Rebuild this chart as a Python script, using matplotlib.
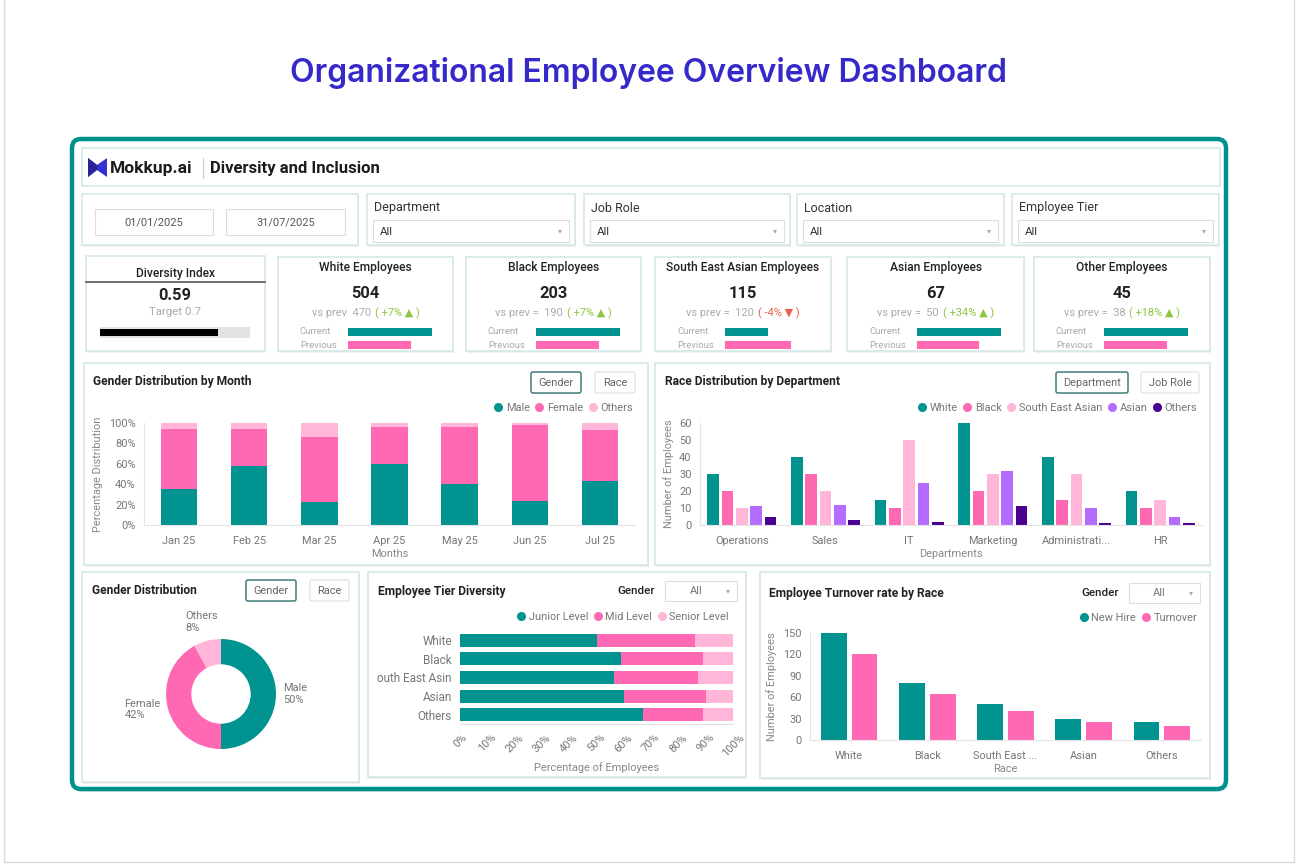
import matplotlib
matplotlib.use("Agg")
import matplotlib.pyplot as plt
from matplotlib.patches import Rectangle, FancyBboxPatch, Polygon
from matplotlib.lines import Line2D
import numpy as np

W, H = 1298, 868

# colours
TEAL = "#00938f"
PINK = "#ff69b4"
LPINK = "#ffb6d9"
PURPLE = "#b46cff"
DPURPLE = "#4b0090"
CARD_EC = "#cfe7e7"
GREY_TXT = "#777777"

# ---- data ----
date_from, date_to = "01/01/2025", "31/07/2025"
filters = ["Department", "Job Role", "Location", "Employee Tier"]

diversity_index = 0.59
diversity_target = 0.7

kpi_names = ["White Employees", "Black Employees", "South East Asian Employees",
             "Asian Employees", "Other Employees"]
kpi_values = [504, 203, 115, 67, 45]
kpi_prev = [470, 190, 120, 50, 38]
kpi_prefix = ["vs prev", "vs prev =", "vs prev =", "vs prev =", "vs prev ="]
kpi_bar_current = [1.0, 1.0, 0.51, 1.0, 1.0]
kpi_bar_previous = [0.75, 0.75, 0.79, 0.74, 0.75]

months = ["Jan 25", "Feb 25", "Mar 25", "Apr 25", "May 25", "Jun 25", "Jul 25"]
month_male = [35, 58, 23, 60, 40, 24, 43]
month_female = [59, 36, 63, 36, 56, 74, 50]
month_others = [6, 6, 14, 4, 4, 2, 7]

departments = ["Operations", "Sales", "IT", "Marketing", "Administrati...", "HR"]
races = ["White", "Black", "South East Asian", "Asian", "Others"]
dept_white = [30, 40, 15, 60, 40, 20]
dept_black = [20, 30, 10, 20, 15, 10]
dept_sea = [10, 20, 50, 30, 30, 15]
dept_asian = [11, 12, 25, 32, 10, 5]
dept_others = [5, 3, 2, 11, 1, 1]

gender_labels = ["Male", "Female", "Others"]
gender_share = [50, 42, 8]

tier_races = ["White", "Black", "South East Asin", "Asian", "Others"]
tier_junior = [50, 59, 56.5, 60, 67]
tier_mid = [36, 30, 30.5, 30, 22]
tier_senior = [14, 11, 13, 10, 11]

turn_races = ["White", "Black", "South East ...", "Asian", "Others"]
new_hire = [150, 80, 50, 30, 25]
turnover = [120, 65, 40, 25, 20]

plt.rcParams['font.family'] = ['Roboto', 'DejaVu Sans']

fig = plt.figure(figsize=(W / 100, H / 100), dpi=100)
bg = fig.add_axes([0, 0, 1, 1])
bg.set_xlim(0, W)
bg.set_ylim(H, 0)
bg.axis('off')


def rect(x0, y0, x1, y1):
    return [x0 / W, 1 - y1 / H, (x1 - x0) / W, (y1 - y0) / H]


def fs(px):
    return px * 0.72


def card(x0, y0, x1, y1, ec=CARD_EC, shadow=True):
    if shadow:
        bg.add_patch(Rectangle((x0 + 1, y0 + 2), x1 - x0, y1 - y0, fc="#f8ecf1", ec="none", zorder=1))
    p = Rectangle((x0, y0), x1 - x0, y1 - y0, fc="white", ec=ec, lw=1.1, zorder=2)
    bg.add_patch(p)
    return p


def button(x0, y0, x1, y1, label, selected=False):
    ec = "#3f7c79" if selected else "#dddddd"
    bg.add_patch(FancyBboxPatch((x0, y0), x1 - x0, y1 - y0, boxstyle="round,pad=0,rounding_size=2",
                                fc="white", ec=ec, lw=1.1 if selected else 0.8, zorder=3))
    bg.text((x0 + x1) / 2, (y0 + y1) / 2, label, ha="center", va="center",
            fontsize=fs(11), color="#666666", zorder=4)


def dropdown(x0, y0, x1, y1, label="All", centered=False):
    bg.add_patch(Rectangle((x0, y0), x1 - x0, y1 - y0, fc="white", ec="#dddddd", lw=0.8, zorder=3))
    if centered:
        bg.text((x0 + x1) / 2 - 5, (y0 + y1) / 2, label, ha="center", va="center",
                fontsize=fs(11), color="#777777", zorder=4)
    else:
        bg.text(x0 + 7, (y0 + y1) / 2 + 1, label, ha="left", va="center",
                fontsize=fs(11.5), color="#333333", zorder=4)
    bg.text(x1 - 9, (y0 + y1) / 2, "▾", ha="center", va="center", fontsize=fs(8),
            color="#aaaaaa", zorder=4)


def legend(ax, labels, colors, xr, y):
    handles = [Line2D([], [], marker="o", ls="none", color=c, markersize=5.5) for c in colors]
    ax.legend(handles, labels, loc="center right", bbox_to_anchor=(xr, y), bbox_transform=bg.transData,
              ncol=len(labels), frameon=False, borderpad=0, borderaxespad=0, handlelength=0.7,
              handletextpad=0.35, columnspacing=0.5, fontsize=fs(11), labelcolor=GREY_TXT)


def style_axis(ax):
    for s in ["top", "right"]:
        ax.spines[s].set_visible(False)
    for s in ["left", "bottom"]:
        ax.spines[s].set_color("#e3e3e3")
    ax.tick_params(length=0, labelsize=fs(11), colors=GREY_TXT)
    ax.set_facecolor("none")


# ---- page ----
bg.add_patch(Rectangle((4, -2), 1290, 864, fc="none", ec="#d9d9d9", lw=1.0))
bg.text(W / 2, 73, "Organizational Employee Overview Dashboard", ha="center", va="center",
        fontsize=23, color="#3529c9", family=["Inter", "DejaVu Sans"], weight="semibold")

bg.add_patch(FancyBboxPatch((74, 142), 1154, 650, boxstyle="round,pad=0,rounding_size=9",
                            fc="#dddddd", ec="none", alpha=0.6, zorder=0))
bg.add_patch(FancyBboxPatch((72, 139), 1154, 650, boxstyle="round,pad=0,rounding_size=9",
                            fc="white", ec="#00918c", lw=3.2, zorder=0.5))

# header
card(82, 148, 1220, 186, shadow=False)
bg.add_patch(Polygon([(88, 158), (97, 165), (107, 158), (107, 177), (97, 170), (88, 177)],
                     closed=True, fc="#3430d4", ec="none", zorder=3))
bg.add_patch(Polygon([(88, 158), (97, 165), (97, 170), (88, 177)], closed=True,
                     fc="#2a2596", ec="none", zorder=3))
bg.text(110, 168, "Mokkup.ai", ha="left", va="center", fontsize=12.5, weight="bold", color="#1b1b1b", zorder=4)
bg.plot([203, 203], [158, 178], color="#cccccc", lw=0.8, zorder=4)
bg.text(210, 168, "Diversity and Inclusion", ha="left", va="center", fontsize=12, weight="bold",
        color="#1b1b1b", zorder=4)

# filters
card(82, 194, 358, 245)
for (x0, x1), d in zip([(95, 213), (226, 345)], [date_from, date_to]):
    bg.add_patch(Rectangle((x0, 209), x1 - x0, 26, fc="white", ec="#dddddd", lw=0.8, zorder=3))
    bg.text((x0 + x1) / 2, 222, d, ha="center", va="center", fontsize=fs(11), color="#555555", zorder=4)
for (x0, x1), name in zip([(367, 575), (584, 790), (797, 1004), (1012, 1219)], filters):
    card(x0, 194, x1, 245)
    bg.text(x0 + 7, 208, name, ha="left", va="center", fontsize=fs(12.5), color="#333333", zorder=4)
    dropdown(x0 + 6, 220, x1 - 6, 242)

# ---- KPI row ----
card(86, 256, 265, 351)
bg.text(175, 273, "Diversity Index", ha="center", va="center", fontsize=fs(12), weight="medium",
        color="#222222", zorder=4)
bg.plot([86, 265], [282, 282], color="#555555", lw=1.2, zorder=4)
bg.text(175, 296, f"{diversity_index:.2f}", ha="center", va="center", fontsize=fs(16.5), weight="bold",
        color="#222222", zorder=4)
bg.text(175, 312, f"Target {diversity_target}", ha="center", va="center", fontsize=fs(11.5),
        color="#aaaaaa", zorder=4)
axd = fig.add_axes(rect(100, 327, 250, 338))
axd.barh([0], [0.75], height=1.0, color="#e3e3e3")
axd.barh([0], [diversity_index], height=0.6, color="black")
axd.set_xlim(0, 0.75)
axd.set_ylim(-0.5, 0.5)
axd.axis("off")

renderer = fig.canvas.get_renderer()
kpi_boxes = [(278, 453), (466, 641), (655, 831), (847, 1024), (1034, 1210)]
for i, (x0, x1) in enumerate(kpi_boxes):
    cx = (x0 + x1) / 2
    card(x0, 257, x1, 351)
    bg.text(cx, 267, kpi_names[i], ha="center", va="center", fontsize=fs(12), weight="medium",
            color="#222222", zorder=4)
    bg.text(cx, 293, str(kpi_values[i]), ha="center", va="center", fontsize=fs(16.5), weight="bold",
            color="#222222", zorder=4)
    pct = round((kpi_values[i] - kpi_prev[i]) / kpi_prev[i] * 100)
    up = pct >= 0
    s2 = f"( {pct:+d}% {'▲' if up else '▼'} )"
    t1 = bg.text(0, 313, f"{kpi_prefix[i]}  {kpi_prev[i]}", ha="left", va="center",
                 fontsize=fs(11), color="#aaaaaa", zorder=4)
    t2 = bg.text(0, 313, s2, ha="left", va="center", fontsize=fs(11),
                 color="#8dc63f" if up else "#e8604c", zorder=4)
    w1 = t1.get_window_extent(renderer).width
    w2 = t2.get_window_extent(renderer).width
    xs = cx - (w1 + 4 + w2) / 2
    t1.set_x(xs)
    t2.set_x(xs + w1 + 4)
    bg.text(x0 + 22, 332, "Current", ha="left", va="center", fontsize=fs(9.5), color="#aaaaaa", zorder=4)
    bg.text(x0 + 22, 345, "Previous", ha="left", va="center", fontsize=fs(9.5), color="#aaaaaa", zorder=4)
    axk = fig.add_axes(rect(x0 + 70, 325.5, x0 + 154, 351.5))
    axk.barh([0, 1], [kpi_bar_current[i], kpi_bar_previous[i]], height=0.62, color=[TEAL, PINK])
    axk.set_xlim(0, 1)
    axk.set_ylim(1.5, -0.5)
    axk.axis("off")

# ---- Gender Distribution by Month ----
card(84, 363, 648, 565)
bg.text(93, 382, "Gender Distribution by Month", ha="left", va="center", fontsize=fs(12), weight="bold",
        color="#222222", zorder=4)
button(531, 372, 581, 393, "Gender", True)
button(595, 372, 635, 393, "Race")
ax1 = fig.add_axes(rect(144, 423, 635, 525))
x = np.arange(len(months))
m = np.array(month_male)
f = np.array(month_female)
ax1.bar(x, m, 0.52, color=TEAL)
ax1.bar(x, f, 0.52, bottom=m, color=PINK)
ax1.bar(x, month_others, 0.52, bottom=m + f, color=LPINK)
ax1.set_xlim(-0.5, len(months) - 0.5)
ax1.set_ylim(0, 100)
ax1.set_yticks(range(0, 101, 20))
ax1.set_yticklabels([f"{v}%" for v in range(0, 101, 20)])
ax1.set_xticks(x)
ax1.set_xticklabels(months)
style_axis(ax1)
ax1.tick_params(axis="x", pad=8)
ax1.tick_params(axis="y", pad=6)
ax1.set_xlabel("Months", fontsize=fs(11), color="#888888", labelpad=2)
ax1.set_ylabel("Percentage Distribution", fontsize=fs(11), color="#888888", labelpad=4)
legend(ax1, gender_labels, [TEAL, PINK, LPINK], 633, 408)

# ---- Race Distribution by Department ----
card(655, 363, 1210, 565)
bg.text(665, 382, "Race Distribution by Department", ha="left", va="center", fontsize=fs(12),
        weight="bold", color="#222222", zorder=4)
button(1056, 372, 1128, 393, "Department", True)
button(1141, 372, 1199, 393, "Job Role")
ax2 = fig.add_axes(rect(700, 423, 1202, 525))
xd = np.arange(len(departments))
race_series = [dept_white, dept_black, dept_sea, dept_asian, dept_others]
race_colors = [TEAL, PINK, LPINK, PURPLE, DPURPLE]
for k, (vals, col) in enumerate(zip(race_series, race_colors)):
    ax2.bar(xd + (k - 2) * 0.171, vals, 0.14, color=col)
ax2.set_xlim(-0.5, len(departments) - 0.5)
ax2.set_ylim(0, 60)
ax2.set_yticks(range(0, 61, 10))
ax2.set_xticks(xd)
ax2.set_xticklabels(departments)
style_axis(ax2)
ax2.tick_params(axis="x", pad=8)
ax2.tick_params(axis="y", pad=6)
ax2.set_xlabel("Departments", fontsize=fs(11), color="#888888", labelpad=2)
ax2.set_ylabel("Number of Employees", fontsize=fs(11), color="#888888", labelpad=4)
legend(ax2, races, race_colors, 1197, 408)

# ---- Gender Distribution donut ----
card(82, 572, 359, 782)
bg.text(92, 591, "Gender Distribution", ha="left", va="center", fontsize=fs(12), weight="bold",
        color="#222222", zorder=4)
button(246, 580, 296, 601, "Gender", True)
button(310, 580, 349, 601, "Race")
ax5 = fig.add_axes(rect(116, 589, 326, 799))
wedges, texts = ax5.pie(gender_share, colors=[TEAL, PINK, LPINK], startangle=90, counterclock=False,
                        labels=[f"{l}\n{v}%" for l, v in zip(gender_labels, gender_share)],
                        labeldistance=1.13, wedgeprops=dict(width=0.46, linewidth=0),
                        textprops=dict(fontsize=fs(11), color=GREY_TXT, multialignment="left"))
texts[2].set_position((-0.64, 1.31))
texts[2].set_ha("left")
ax5.set_xlim(-105 / 55, 105 / 55)
ax5.set_ylim(-105 / 55, 105 / 55)
ax5.set_aspect("equal")
ax5.axis("off")

# ---- Employee Tier Diversity ----
card(368, 572, 746, 777)
bg.text(378, 591, "Employee Tier Diversity", ha="left", va="center", fontsize=fs(12), weight="bold",
        color="#222222", zorder=4)
bg.text(617, 591, "Gender", ha="left", va="center", fontsize=fs(11.5), weight="medium",
        color="#222222", zorder=4)
dropdown(665, 581, 737, 601, centered=True)
ax4 = fig.add_axes(rect(460, 631, 733, 724))
yt = np.arange(len(tier_races))
j = np.array(tier_junior)
mid = np.array(tier_mid)
ax4.barh(yt, j, 0.7, color=TEAL)
ax4.barh(yt, mid, 0.7, left=j, color=PINK)
ax4.barh(yt, tier_senior, 0.7, left=j + mid, color=LPINK)
ax4.set_xlim(0, 100)
ax4.set_ylim(len(tier_races) - 0.5, -0.5)
ax4.set_yticks(yt)
ax4.set_yticklabels(tier_races)
ax4.set_xticks(range(0, 101, 10))
ax4.set_xticklabels([f"{v}%" for v in range(0, 101, 10)], rotation=45)
style_axis(ax4)
ax4.spines["left"].set_visible(False)
ax4.tick_params(axis="y", pad=6, labelsize=fs(11.8))
ax4.tick_params(axis="x", pad=6)
clip = Rectangle((377, 572), 369, 205, transform=bg.transData, visible=False)
bg.add_patch(clip)
for lab in ax4.get_yticklabels():
    lab.set_clip_path(clip)
ax4.set_xlabel("Percentage of Employees", fontsize=fs(11), color="#888888", labelpad=3)
legend(ax4, ["Junior Level", "Mid Level", "Senior Level"], [TEAL, PINK, LPINK], 729, 617)

# ---- Employee Turnover rate by Race ----
card(760, 572, 1210, 778)
bg.text(769, 593, "Employee Turnover rate by Race", ha="left", va="center", fontsize=fs(12),
        weight="bold", color="#222222", zorder=4)
bg.text(1081, 593, "Gender", ha="left", va="center", fontsize=fs(11.5), weight="medium",
        color="#222222", zorder=4)
dropdown(1129, 583, 1200, 603, centered=True)
ax3 = fig.add_axes(rect(810, 633, 1201, 740))
xr = np.arange(len(turn_races))
ax3.bar(xr - 0.198, new_hire, 0.33, color=TEAL)
ax3.bar(xr + 0.198, turnover, 0.33, color=PINK)
ax3.set_xlim(-0.5, len(turn_races) - 0.5)
ax3.set_ylim(0, 150)
ax3.set_yticks(range(0, 151, 30))
ax3.set_xticks(xr)
ax3.set_xticklabels(turn_races)
style_axis(ax3)
ax3.tick_params(axis="x", pad=8)
ax3.tick_params(axis="y", pad=6)
ax3.set_xlabel("Race", fontsize=fs(11), color="#888888", labelpad=2)
ax3.set_ylabel("Number of Employees", fontsize=fs(11), color="#888888", labelpad=4)
legend(ax3, ["New Hire", "Turnover"], [TEAL, PINK], 1197, 618)

fig.savefig("out.png", dpi=100)
